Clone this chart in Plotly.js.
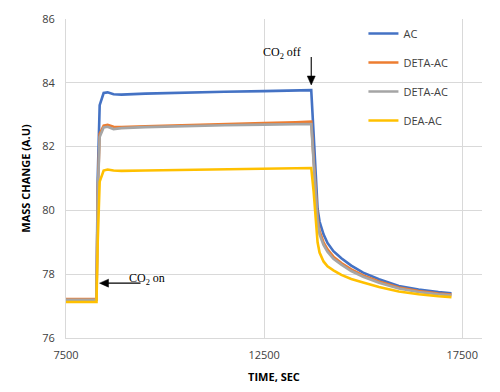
<!DOCTYPE html>
<html>
<head>
<meta charset="utf-8">
<script src="https://cdn.plot.ly/plotly-3.0.1.min.js"></script>
<style>html,body{margin:0;padding:0;background:#fff;}#chart{width:500px;height:392px;}</style>
</head>
<body>
<div id="chart"></div>
<script>
const time = [7500, 8270, 8300, 8350, 8450, 8550, 8700, 8900, 9500, 10500, 11500, 12500, 13300, 13690, 13750, 13800, 13850, 13900, 13950, 14000, 14100, 14250, 14450, 14700, 15000, 15400, 15900, 16400, 16900, 17230];
const acValues = [77.2, 77.2, 81.0, 83.3, 83.68, 83.7, 83.64, 83.63, 83.66, 83.7, 83.72, 83.74, 83.76, 83.77, 82.4, 81.2, 80.05, 79.65, 79.42, 79.25, 78.98, 78.72, 78.5, 78.27, 78.05, 77.84, 77.63, 77.52, 77.44, 77.4];
const detaOrange = [77.22, 77.22, 80.5, 82.4, 82.66, 82.68, 82.62, 82.61, 82.64, 82.68, 82.71, 82.74, 82.76, 82.78, 81.6, 80.6, 79.75, 79.35, 79.15, 79.0, 78.78, 78.55, 78.35, 78.15, 77.96, 77.77, 77.58, 77.47, 77.39, 77.36];
const detaGray = [77.2, 77.2, 80.4, 82.3, 82.6, 82.62, 82.55, 82.58, 82.61, 82.65, 82.67, 82.69, 82.7, 82.71, 81.5, 80.5, 79.65, 79.25, 79.06, 78.92, 78.7, 78.48, 78.3, 78.1, 77.92, 77.73, 77.55, 77.44, 77.37, 77.34];
const deaValues = [77.13, 77.13, 79.0, 80.9, 81.25, 81.28, 81.25, 81.24, 81.25, 81.27, 81.29, 81.31, 81.32, 81.33, 80.6, 79.7, 79.0, 78.68, 78.52, 78.4, 78.25, 78.12, 77.98, 77.85, 77.74, 77.6, 77.46, 77.37, 77.31, 77.28];
const seriesNames = ["AC", "DETA-AC", "DETA-AC", "DEA-AC"];
const seriesColors = ["#4472C4", "#ED7D31", "#A5A5A5", "#FFC000"];
const xTicks = [7500, 12500, 17500];
const yTicks = [76, 78, 80, 82, 84, 86];

const allY = [acValues, detaOrange, detaGray, deaValues];
const traces = allY.map((y, i) => ({
  x: time, y: y, type: "scatter", mode: "lines", name: seriesNames[i],
  legendgroup: "g" + i,
  line: {color: seriesColors[i], width: 2.6, shape: "linear"}
}));

const font = "'Open Sans', 'Liberation Sans', sans-serif";
const serif = "'Liberation Serif', 'DejaVu Serif', serif";
const layout = {
  width: 500, height: 392,
  margin: {l: 66, r: 18, t: 19, b: 54},
  paper_bgcolor: "#ffffff", plot_bgcolor: "#ffffff",
  font: {family: font, size: 11, color: "#404040"},
  showlegend: true,
  legend: {x: 0.715, y: 1.0, xanchor: "left", yanchor: "top", bgcolor: "rgba(0,0,0,0)",
           font: {family: font, size: 11, color: "#404040"}, tracegroupgap: 10, itemwidth: 30},
  xaxis: {range: [7500, 18000], tickvals: xTicks, ticktext: xTicks.map(String),
          showgrid: true, gridcolor: "#d9d9d9", gridwidth: 1, zeroline: false,
          showline: true, linecolor: "#d9d9d9", linewidth: 1, ticks: "",
          ticklabelstandoff: 7,
          tickfont: {size: 11, color: "#404040"},
          title: {text: "<b>TIME, SEC</b>", font: {size: 11, color: "#000"}, standoff: 12}},
  yaxis: {range: [76, 86], tickvals: yTicks, ticktext: yTicks.map(String),
          showgrid: true, gridcolor: "#d9d9d9", gridwidth: 1, zeroline: false,
          showline: true, linecolor: "#d9d9d9", linewidth: 1, ticks: "",
          ticklabelstandoff: 8,
          tickfont: {size: 11, color: "#404040"},
          title: {text: "<b>MASS CHANGE (A.U)</b>", font: {size: 11, color: "#000"}, standoff: 9}},
  shapes: [
    // CO2 off arrow (shaft + head), anchored at the curve top
    {type: "path", xref: "x", yref: "y", xsizemode: "pixel", ysizemode: "pixel",
     xanchor: 13690, yanchor: 83.93, path: "M0,7 L0,28", line: {color: "#000", width: 1.1}},
    {type: "path", xref: "x", yref: "y", xsizemode: "pixel", ysizemode: "pixel",
     xanchor: 13690, yanchor: 83.93, path: "M0,0 L-4,9 L4,9 Z", fillcolor: "#000", line: {color: "#000", width: 0.5}},
    // CO2 on arrow
    {type: "path", xref: "x", yref: "y", xsizemode: "pixel", ysizemode: "pixel",
     xanchor: 8346, yanchor: 77.72, path: "M7,0 L41,0", line: {color: "#000", width: 1.1}},
    {type: "path", xref: "x", yref: "y", xsizemode: "pixel", ysizemode: "pixel",
     xanchor: 8346, yanchor: 77.72, path: "M0,0 L9,-4 L9,4 Z", fillcolor: "#000", line: {color: "#000", width: 0.5}}
  ],
  annotations: [
    {x: 12964, y: 84.93, xref: "x", yref: "y", showarrow: false,
     text: "CO<sub>2</sub> off", font: {family: serif, size: 12, color: "#000"}},
    {x: 9538, y: 77.85, xref: "x", yref: "y", showarrow: false,
     text: "CO<sub>2</sub> on", font: {family: serif, size: 12, color: "#000"}}
  ]
};
Plotly.newPlot("chart", traces, layout, {displayModeBar: false, staticPlot: true});
</script>
</body>
</html>
